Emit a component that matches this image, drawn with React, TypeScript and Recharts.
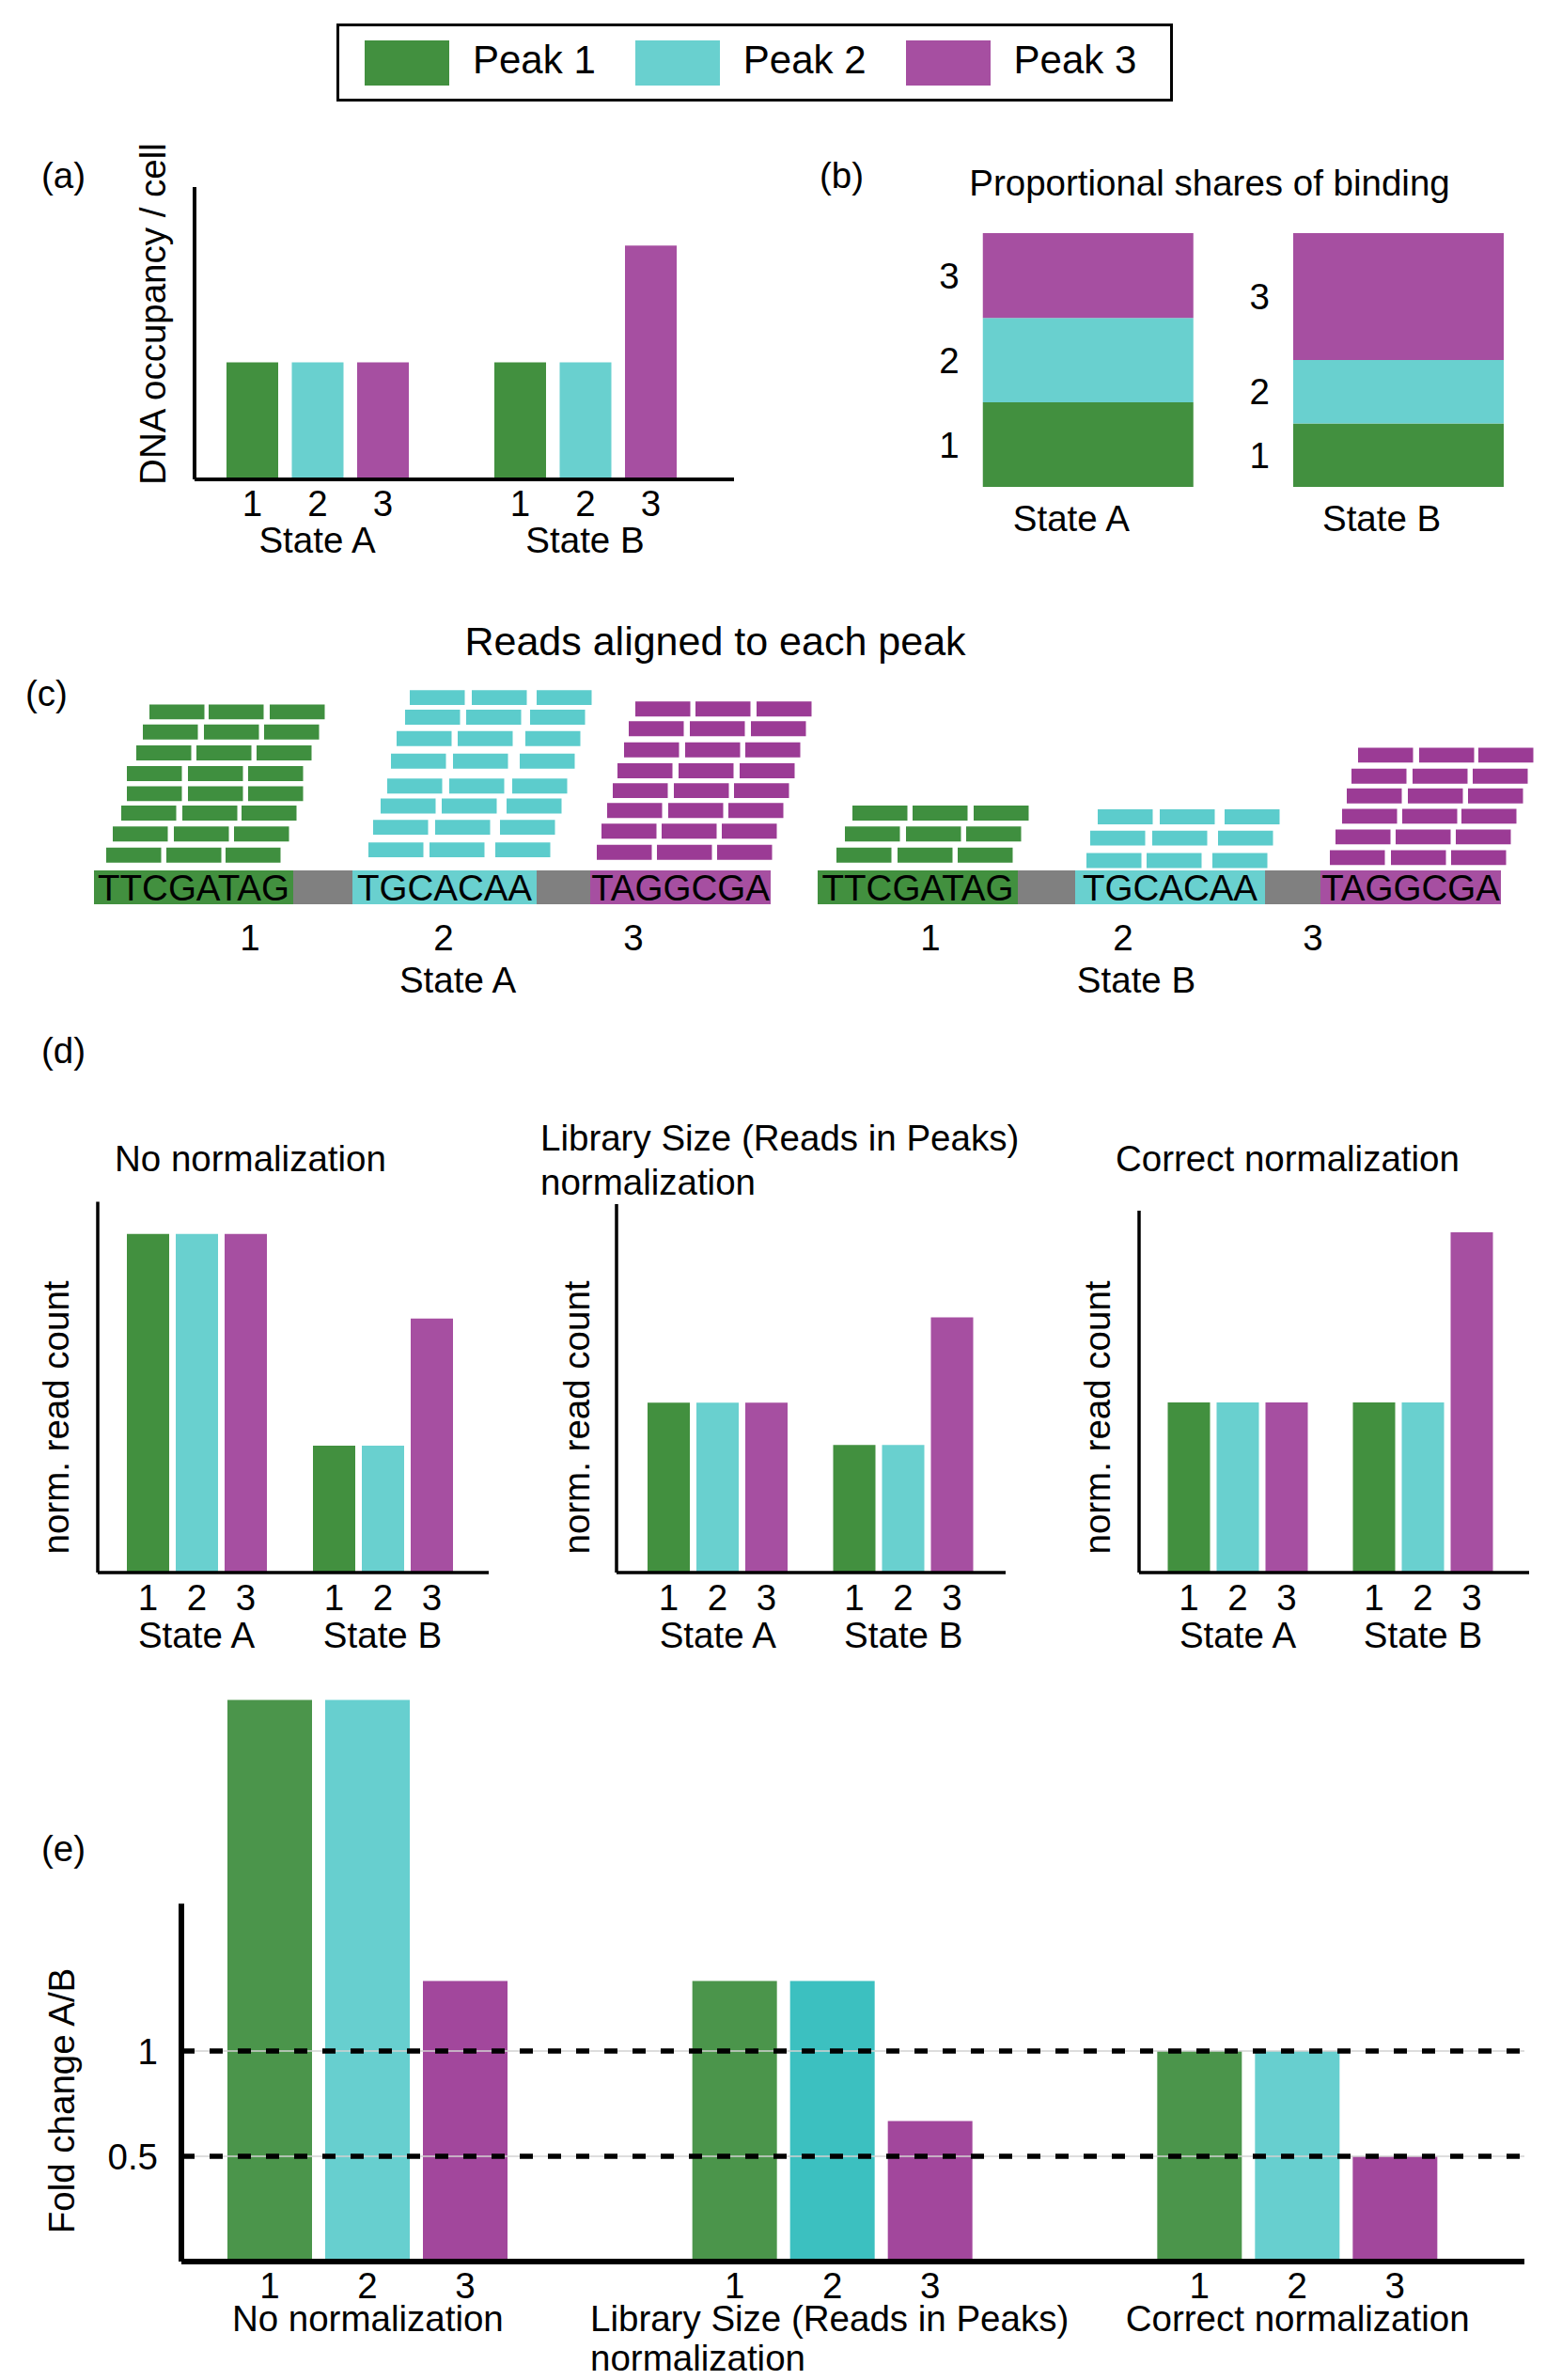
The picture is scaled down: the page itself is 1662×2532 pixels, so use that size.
import React from 'react';
import {
  BarChart,
  Bar,
  XAxis,
  YAxis,
  LabelList,
  Cell,
  ComposedChart,
  Scatter,
  ReferenceArea,
  ReferenceLine,
} from 'recharts';

const FONT = '"Liberation Sans", Arial, Helvetica, sans-serif';
const FS = 38.5;

// peaks
const peakNames = ['Peak 1', 'Peak 2', 'Peak 3'];
const peakNums = ['1', '2', '3'];
const peakKeys = ['p1', 'p2', 'p3'];
const peakColors = ['#42903f', '#69d0cf', '#a64fa1'];
const readColors = ['#3f8f3f', '#5ccccc', '#9b3b95'];
const linkerColor = '#808080';

// (a) DNA occupancy per cell
const states = ['State A', 'State B'];
const occP1 = [1, 1];
const occP2 = [1, 1];
const occP3 = [1, 2];

// (b) proportional shares of binding
const shareP1 = [0.333, 0.25];
const shareP2 = [0.333, 0.25];
const shareP3 = [0.334, 0.5];

// (c) reads aligned to each peak (x in genome units, y in read rows)
const readLength = 5.85;
const readHeight = 0.73;
const seqBottom = -1.65;
const sequenceSegments = [
  { from: 0, to: 21.2, peak: 0, text: 'TTCGATAG' },
  { from: 21.2, to: 27.5, peak: -1, text: '' },
  { from: 27.5, to: 47.1, peak: 1, text: 'TGCACAA' },
  { from: 47.1, to: 52.8, peak: -1, text: '' },
  { from: 52.8, to: 72.0, peak: 2, text: 'TAGGCGA' },
  { from: 77.0, to: 98.3, peak: 0, text: 'TTCGATAG' },
  { from: 98.3, to: 104.4, peak: -1, text: '' },
  { from: 104.4, to: 124.6, peak: 1, text: 'TGCACAA' },
  { from: 124.6, to: 130.5, peak: -1, text: '' },
  { from: 130.5, to: 149.7, peak: 2, text: 'TAGGCGA' },
];
const readsA1 = [
  { y: 0.38, starts: [1.3, 7.7, 14.0] },
  { y: 1.41, starts: [2.0, 8.5, 14.9] },
  { y: 2.43, starts: [2.9, 9.4, 15.7] },
  { y: 3.38, starts: [3.5, 10.0, 16.4] },
  { y: 4.36, starts: [3.5, 10.0, 16.4] },
  { y: 5.37, starts: [4.5, 10.9, 17.3] },
  { y: 6.39, starts: [5.2, 11.7, 18.1] },
  { y: 7.37, starts: [5.9, 12.2, 18.7] },
];
const readsA2 = [
  { y: 0.64, starts: [29.2, 35.7, 42.7] },
  { y: 1.74, starts: [29.7, 36.3, 43.2] },
  { y: 2.78, starts: [30.5, 37.0, 43.9] },
  { y: 3.75, starts: [31.2, 37.8, 44.5] },
  { y: 4.97, starts: [31.6, 38.2, 45.3] },
  { y: 6.07, starts: [32.2, 38.7, 45.9] },
  { y: 7.11, starts: [33.1, 39.6, 46.4] },
  { y: 8.07, starts: [33.6, 40.2, 47.1] },
];
const readsA3 = [
  { y: 0.52, starts: [53.5, 59.9, 66.3] },
  { y: 1.55, starts: [54.0, 60.4, 66.8] },
  { y: 2.56, starts: [54.6, 61.1, 67.5] },
  { y: 3.53, starts: [55.2, 61.7, 68.1] },
  { y: 4.5, starts: [55.7, 62.2, 68.7] },
  { y: 5.52, starts: [56.4, 62.9, 69.3] },
  { y: 6.55, starts: [56.9, 63.4, 69.9] },
  { y: 7.51, starts: [57.6, 64.0, 70.5] },
];
const readsB1 = [
  { y: 0.38, starts: [79.0, 85.5, 91.9] },
  { y: 1.41, starts: [79.9, 86.4, 92.8] },
  { y: 2.43, starts: [80.7, 87.1, 93.6] },
];
const readsB2 = [
  { y: 0.12, starts: [105.6, 112.0, 119.0] },
  { y: 1.21, starts: [106.0, 112.6, 119.6] },
  { y: 2.25, starts: [106.8, 113.4, 120.3] },
];
const readsB3 = [
  { y: 0.26, starts: [131.5, 138.0, 144.4] },
  { y: 1.27, starts: [132.1, 138.5, 144.9] },
  { y: 2.28, starts: [132.8, 139.2, 145.5] },
  { y: 3.27, starts: [133.3, 139.8, 146.2] },
  { y: 4.23, starts: [133.8, 140.3, 146.7] },
  { y: 5.26, starts: [134.5, 141.0, 147.3] },
];
const readGroups = [
  { peak: 0, rows: readsA1 },
  { peak: 1, rows: readsA2 },
  { peak: 2, rows: readsA3 },
  { peak: 0, rows: readsB1 },
  { peak: 1, rows: readsB2 },
  { peak: 2, rows: readsB3 },
];
const peakTickPos = [16.6, 37.2, 57.4, 89.0, 109.5, 129.7];
const stateTickPos = [38.7, 110.9];

// (d) normalized read counts
const rawP1 = [8, 3];
const rawP2 = [8, 3];
const rawP3 = [8, 6];
const libP1 = [0.333, 0.25];
const libP2 = [0.333, 0.25];
const libP3 = [0.333, 0.5];
const corP1 = [1, 1];
const corP2 = [1, 1];
const corP3 = [1, 2];

// (e) fold change A/B
const methodLines = [
  ['No normalization'],
  ['Library Size (Reads in Peaks)', 'normalization'],
  ['Correct normalization'],
];
const foldP1 = [2.667, 1.333, 1.0];
const foldP2 = [2.667, 1.333, 1.0];
const foldP3 = [1.333, 0.667, 0.5];
const foldTicks = [0.5, 1];
const foldColors = ['#4b954b', '#67cfcf', '#a2479c'];
const foldCyanShades = ['#67cfcf', '#3cc0c0', '#67cfcf'];

const textStyle = { fill: '#000', fontSize: FS, fontFamily: FONT };

const PlainTick = ({ x, y, label, dy, dx = 0 }: any) => (
  <text x={x + dx} y={y + dy} textAnchor="middle" {...textStyle}>
    {label}
  </text>
);

const MethodTick = ({ x, y, index }: any) => {
  const lines = methodLines[index] || [];
  if (lines.length === 1) {
    return (
      <text x={x} y={y + 74} textAnchor="middle" {...textStyle}>
        {lines[0]}
      </text>
    );
  }
  return (
    <text x={x - 258} y={y + 74} textAnchor="start" {...textStyle}>
      {lines.map((l, j) => (
        <tspan key={j} x={x - 258} dy={j === 0 ? 0 : 42}>
          {l}
        </tspan>
      ))}
    </text>
  );
};

function Legend() {
  return (
    <div
      style={{
        position: 'absolute',
        left: 358,
        top: 25,
        width: 890,
        height: 83,
        border: '3px solid #000',
        boxSizing: 'border-box',
        display: 'flex',
        alignItems: 'center',
        paddingLeft: 27,
        whiteSpace: 'nowrap',
      }}
    >
      {peakNames.map((n, i) => (
        <div key={n} style={{ display: 'flex', alignItems: 'center', marginRight: 42, flexShrink: 0 }}>
          <div style={{ width: 90, height: 48, background: peakColors[i], marginRight: 25, flexShrink: 0 }} />
          <span style={{ fontSize: 42, fontFamily: FONT, color: '#000', position: 'relative', top: -3, whiteSpace: 'nowrap' }}>{n}</span>
        </div>
      ))}
    </div>
  );
}

const axA = { stroke: '#000', strokeWidth: 4 };

function PanelA() {
  const data = states.map((s, i) => ({ state: s, p1: occP1[i], p2: occP2[i], p3: occP3[i] }));
  return (
    <div style={{ position: 'absolute', left: 100, top: 150 }}>
      <BarChart width={720} height={500} data={data} margin={{ top: 49, right: 39, left: 87, bottom: 40 }} barSize={55} barGap={14.5}>
        <YAxis width={20} domain={[0, 2.5]} tick={false} tickLine={false} axisLine={axA} />
        <XAxis
          dataKey="state"
          height={100}
          padding={{ left: -12, right: 16 }}
          axisLine={axA}
          tickLine={false}
          tickSize={0}
          tickMargin={0}
          interval={0}
          tick={(p: any) => <PlainTick {...p} label={p.payload.value} dy={78} />}
        />
        {peakKeys.map((k, i) => (
          <Bar key={k} dataKey={k} fill={peakColors[i]} isAnimationActive={false}>
            <LabelList position="bottom" offset={12} formatter={() => peakNums[i]} {...textStyle} />
          </Bar>
        ))}
      </BarChart>
    </div>
  );
}

function PanelB() {
  const data = states.map((s, i) => ({ state: s, p1: shareP1[i], p2: shareP2[i], p3: shareP3[i] }));
  return (
    <div style={{ position: 'absolute', left: 900, top: 150 }}>
      <BarChart width={762} height={450} data={data} margin={{ top: 98, right: 8.75, left: 92.75, bottom: 20 }} barSize={224}>
        <YAxis hide domain={[0, 1]} />
        <XAxis
          dataKey="state"
          height={62}
          axisLine={false}
          tickLine={false}
          tickSize={0}
          tickMargin={0}
          interval={0}
          tick={(p: any) => <PlainTick {...p} label={p.payload.value} dy={46.5} dx={-18} />}
        />
        {peakKeys.map((k, i) => (
          <Bar key={k} dataKey={k} stackId="s" fill={peakColors[i]} isAnimationActive={false}>
            <LabelList position="left" offset={25} formatter={() => peakNums[i]} {...textStyle} />
          </Bar>
        ))}
      </BarChart>
    </div>
  );
}

function PanelC() {
  const anchors = peakTickPos.map((x) => ({ x, y: seqBottom }));
  return (
    <div style={{ position: 'absolute', left: 0, top: 690 }}>
      <ComposedChart width={1662} height={400} data={anchors} margin={{ top: 18, right: 12, left: 100, bottom: 10.4 }}>
        <XAxis
          xAxisId={0}
          dataKey="x"
          type="number"
          domain={[0, 155]}
          allowDataOverflow
          ticks={peakTickPos}
          interval={0}
          height={50}
          axisLine={false}
          tickLine={false}
          tickSize={0}
          tickMargin={0}
          tick={(p: any) => <PlainTick {...p} label={peakNums[(p.index ?? 0) % 3]} dy={41} />}
        />
        <XAxis
          xAxisId="state"
          dataKey="x"
          type="number"
          domain={[0, 155]}
          allowDataOverflow
          ticks={stateTickPos}
          interval={0}
          height={60}
          axisLine={false}
          tickLine={false}
          tickSize={0}
          tickMargin={0}
          tick={(p: any) => <PlainTick {...p} label={states[p.index ?? 0]} dy={36} />}
        />
        <YAxis dataKey="y" type="number" domain={[-2, 10]} allowDataOverflow hide />
        <Scatter xAxisId={0} dataKey="y" fill="none" stroke="none" isAnimationActive={false} />
        {sequenceSegments.map((s, i) => (
          <ReferenceArea
            key={'seq' + i}
            x1={s.from}
            x2={s.to}
            y1={seqBottom}
            y2={0}
            fill={s.peak < 0 ? linkerColor : peakColors[s.peak]}
            fillOpacity={1}
            stroke="none"
            label={s.text ? { value: s.text, position: 'center', ...textStyle } : undefined}
          />
        ))}
        {readGroups.flatMap((g, gi) =>
          g.rows.flatMap((r, ri) =>
            r.starts.map((x0, k) => (
              <ReferenceArea
                key={`read-${gi}-${ri}-${k}`}
                x1={x0}
                x2={x0 + readLength}
                y1={r.y}
                y2={r.y + readHeight}
                fill={readColors[g.peak]}
                fillOpacity={1}
                stroke="none"
              />
            ))
          )
        )}
      </ComposedChart>
    </div>
  );
}

const axD = { stroke: '#000', strokeWidth: 3.5 };

function NormPanel({ left, width, mLeft, mRight, mTop, domainMax, padL, padR, p1, p2, p3 }: any) {
  const data = states.map((s, i) => ({ state: s, p1: p1[i], p2: p2[i], p3: p3[i] }));
  return (
    <div style={{ position: 'absolute', left, top: 1250 }}>
      <BarChart width={width} height={560} data={data} margin={{ top: mTop, right: mRight, left: mLeft, bottom: 37 }} barSize={45} barGap={7}>
        <YAxis width={10} domain={[0, domainMax]} tick={false} tickLine={false} axisLine={axD} />
        <XAxis
          dataKey="state"
          height={100}
          padding={{ left: padL, right: padR }}
          axisLine={axD}
          tickLine={false}
          tickSize={0}
          tickMargin={0}
          interval={0}
          tick={(p: any) => <PlainTick {...p} label={p.payload.value} dy={80} />}
        />
        {peakKeys.map((k, i) => (
          <Bar key={k} dataKey={k} fill={peakColors[i]} isAnimationActive={false}>
            <LabelList position="bottom" offset={12.5} formatter={() => peakNums[i]} {...textStyle} />
          </Bar>
        ))}
      </BarChart>
    </div>
  );
}

function PanelE() {
  const data = methodLines.map((l, i) => ({ method: l.join(' '), p1: foldP1[i], p2: foldP2[i], p3: foldP3[i] }));
  return (
    <div style={{ position: 'absolute', left: 0, top: 1760 }}>
      <BarChart width={1662} height={772} data={data} margin={{ top: 41.2, right: 40, left: 93, bottom: 6 }} barSize={90} barGap={14}>
        <YAxis
          width={100}
          domain={[0, 2.7]}
          ticks={foldTicks}
          interval={0}
          tickSize={0}
          tickMargin={25}
          tickLine={false}
          axisLine={{ stroke: '#000', strokeWidth: 6, strokeDasharray: '0 224 2000' }}
          tick={textStyle}
          tickFormatter={(v: number) => String(v)}
        />
        <XAxis
          dataKey="method"
          height={120}
          padding={{ left: -49, right: -6 }}
          axisLine={{ stroke: '#000', strokeWidth: 6 }}
          tickLine={false}
          tickSize={0}
          tickMargin={0}
          interval={0}
          tick={(p: any) => <MethodTick {...p} />}
        />
        {peakKeys.map((k, i) => (
          <Bar key={k} dataKey={k} fill={foldColors[i]} isAnimationActive={false}>
            {i === 1 && data.map((d, j) => <Cell key={d.method} fill={foldCyanShades[j]} />)}
            <LabelList position="bottom" offset={12} formatter={() => peakNums[i]} {...textStyle} />
          </Bar>
        ))}
        {foldTicks.map((t) => (
          <ReferenceLine key={'g' + t} y={t} stroke="#d2d2d2" strokeWidth={1.5} />
        ))}
        {foldTicks.map((t) => (
          <ReferenceLine key={'d' + t} y={t} stroke="#000" strokeWidth={5.5} strokeDasharray="14 16" />
        ))}
      </BarChart>
    </div>
  );
}

const titles = [
  { text: '(a)', x: 44, y: 200 },
  { text: '(b)', x: 872, y: 200 },
  { text: 'Proportional shares of binding', x: 1287, y: 208, anchor: 'middle' },
  { text: 'Reads aligned to each peak', x: 761, y: 697, anchor: 'middle', size: 43 },
  { text: '(c)', x: 27, y: 751 },
  { text: '(d)', x: 44, y: 1131 },
  { text: 'No normalization', x: 122, y: 1246 },
  { text: 'Library Size (Reads in Peaks)', x: 575, y: 1224 },
  { text: 'normalization', x: 575, y: 1271 },
  { text: 'Correct normalization', x: 1187, y: 1246 },
  { text: '(e)', x: 44, y: 1980 },
];

const axisTitles = [
  { text: 'DNA occupancy / cell', x: 176, y: 334 },
  { text: 'norm. read count', x: 73, y: 1508 },
  { text: 'norm. read count', x: 627, y: 1508 },
  { text: 'norm. read count', x: 1181, y: 1508 },
  { text: 'Fold change A/B', x: 79, y: 2235 },
];

function Annotations() {
  return (
    <svg width={1662} height={2532} style={{ position: 'absolute', left: 0, top: 0, pointerEvents: 'none' }}>
      {titles.map((t) => (
        <text key={t.text + t.y} x={t.x} y={t.y} textAnchor={(t.anchor as any) || 'start'} fill="#000" fontSize={t.size || FS} fontFamily={FONT}>
          {t.text}
        </text>
      ))}
      {axisTitles.map((t) => (
        <text
          key={t.text + t.x}
          x={t.x}
          y={t.y}
          transform={`rotate(-90 ${t.x} ${t.y})`}
          textAnchor="middle"
          fill="#000"
          fontSize={FS}
          fontFamily={FONT}
        >
          {t.text}
        </text>
      ))}
    </svg>
  );
}

export default function App() {
  return (
    <div style={{ position: 'absolute', left: 0, top: 0, width: 1662, height: 2532, background: '#fff', overflow: 'hidden', fontFamily: FONT }}>
      <Legend />
      <PanelA />
      <PanelB />
      <PanelC />
      <NormPanel left={0} width={560} mLeft={94} mRight={40} mTop={28.6} domainMax={8.76} padL={6} padR={14} p1={rawP1} p2={rawP2} p3={rawP3} />
      <NormPanel left={560} width={560} mLeft={86} mRight={50} mTop={31} domainMax={0.722} padL={9} padR={10} p1={libP1} p2={libP2} p3={libP3} />
      <NormPanel left={1112} width={550} mLeft={90} mRight={35} mTop={38} domainMax={2.127} padL={6.5} padR={14.5} p1={corP1} p2={corP2} p3={corP3} />
      <PanelE />
      <Annotations />
    </div>
  );
}
